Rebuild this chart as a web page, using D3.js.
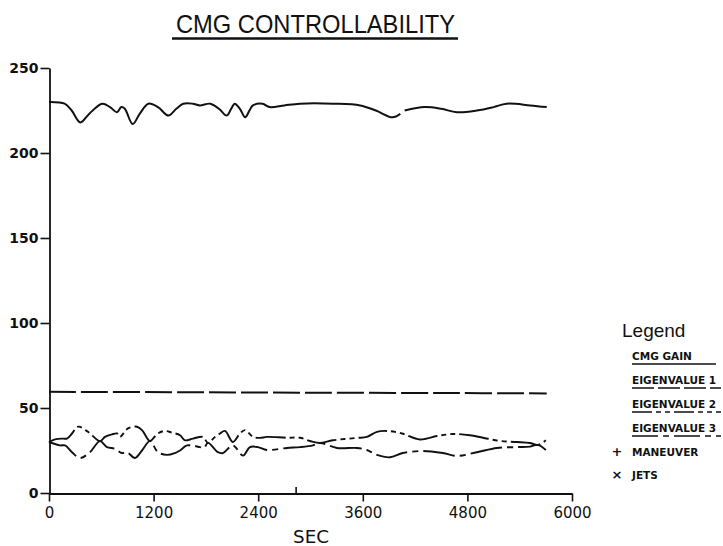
<!DOCTYPE html>
<html>
<head>
<meta charset="utf-8">
<script src="https://cdn.jsdelivr.net/npm/d3@7"></script>
<style>
  html, body { margin: 0; padding: 0; background: #fff; }
  svg { display: block; }
</style>
</head>
<body>
<svg id="chart" width="723" height="546"></svg>
<script>
// ---- data (time in seconds, value) ----
const titleText = "CMG CONTROLLABILITY";
const xTicks = [0, 1200, 2400, 3600, 4800, 6000];
const yTicks = [0, 50, 100, 150, 200, 250];
const xLabel = "SEC";

const cmgGainT = [0,180,260,360,460,610,700,780,830,870,960,1040,1140,1250,1370,1460,1540,1650,1730,1850,1950,2040,2090,2130,2190,2250,2300,2340,2450,2530,2700,2880,3260,3570,3750,3940,4030,null,4080,4310,4500,4680,4910,5100,5250,5520,5710];
const cmgGainV = [230,229,225,218,223,229,227,224,227,226,217,223,229,227,222,226,229,229,228,229,226,222,226,229,226,221,225,228,229,227,228,229,229,228,225,221,223,null,225,227,226,224,225,227,229,228,227];

const eig1T = [0, 1500, 3000, 4500, 5710];
const eig1V = [59.5, 59.3, 59.0, 58.8, 58.6];

const eig2T = [0,69,161,206,264,333,447,585,642,723,780,814,906,1009,1067,1136,1158,1250,1330,1411,1503,1560,1652,1766,1824,1904,1961,2019,2110,2191,2248,2340,2420,2500,2730,2879,2994,3108,3257,3533,3647,3762,3877,4049,4255,4450,4634,4829,4978,5173,5368,5517,5609,5700];
const eig2V = [30,31.5,32,32,35,39,36,30.5,33,34.5,35,33,38,39,37,31.5,30.5,35,36.5,35.5,34,31,32,33,29.5,33,35,36.5,30,35,37,33,32.4,33,32.5,32.5,30.6,29.4,31,32.4,33,36,36.5,35,31.5,33.5,34.7,34,32.5,30.6,30,29.4,28.3,31];

const eig3T = [0,126,184,264,356,470,585,665,757,837,895,986,1067,1158,1250,1353,1445,1503,1583,1732,1778,1824,1938,1996,2110,2225,2305,2397,2500,2730,2879,3028,3108,3303,3533,3647,3762,3911,4060,4290,4519,4680,4909,5139,5368,5517,5609,5700];
const eig3V = [30,28,28,24,20.6,24,30.5,27,26,23.5,24,20.6,25,30.5,24,22.4,23.5,25,28,27,26.5,29.5,24,23.5,28,22,27,27,25.3,26.5,27,28,29.4,26.5,26.5,25.3,22.4,21,23.5,24.7,23.5,21.8,24,26.5,27,27.3,28.3,25.3];

const jetsT = [2835];
const jetsV = [3.5];

const legendTitle = "Legend";
const legendItems = ["CMG GAIN", "EIGENVALUE 1", "EIGENVALUE 2", "EIGENVALUE 3"];
const markerItems = [["+", "MANEUVER"], ["\u00d7", "JETS"]];

// ---- drawing ----
const svg = d3.select("#chart");
const ink = "#111";
const x = d3.scaleLinear().domain([0, 6000]).range([49, 572]);
const y = d3.scaleLinear().domain([0, 250]).range([493, 68]);

// title
svg.append("text")
  .attr("x", 176).attr("y", 33)
  .attr("textLength", 279).attr("lengthAdjust", "spacingAndGlyphs")
  .attr("font-family", "Liberation Sans, Arial, sans-serif")
  .attr("font-size", 26).attr("fill", ink)
  .text(titleText);
svg.append("line").attr("x1", 172).attr("x2", 458).attr("y1", 38.5).attr("y2", 38.5)
  .attr("stroke", ink).attr("stroke-width", 2.5);

// axes
const yAxis = svg.append("g").attr("transform", "translate(49.5,0)")
  .call(d3.axisLeft(y).tickValues(yTicks).tickSize(9).tickSizeOuter(0).tickFormat(d3.format("d")));
const xAxis = svg.append("g").attr("transform", "translate(0,493.5)")
  .call(d3.axisBottom(x).tickValues(xTicks).tickSize(8).tickSizeOuter(0).tickFormat(d3.format("d")));
[yAxis, xAxis].forEach(a => {
  a.select(".domain").attr("stroke", ink).attr("stroke-width", 1.8);
  a.selectAll(".tick line").attr("stroke", ink).attr("stroke-width", 1.6);
});
yAxis.selectAll(".tick text")
  .attr("font-family", "DejaVu Sans, sans-serif").attr("font-weight", "bold")
  .attr("font-size", 14).attr("fill", ink).attr("x", -11).attr("dy", "0.35em");
xAxis.selectAll(".tick text")
  .attr("font-family", "DejaVu Sans, sans-serif")
  .attr("font-size", 15).attr("fill", ink).attr("y", 14).attr("dy", "0.71em");

svg.append("text").attr("x", 311).attr("y", 543).attr("text-anchor", "middle")
  .attr("font-family", "DejaVu Sans, sans-serif").attr("font-size", 18)
  .attr("textLength", 36).attr("lengthAdjust", "spacingAndGlyphs")
  .attr("fill", ink).text(xLabel);

// series
function pairs(T, V) { return T.map((t, i) => (t === null ? null : [t, V[i]])); }
const line = d3.line()
  .defined(d => d !== null)
  .x(d => x(d[0])).y(d => y(d[1]))
  .curve(d3.curveCatmullRom.alpha(0.5));

const series = [
  { data: pairs(cmgGainT, cmgGainV), dash: null, w: 2 },
  { data: pairs(eig1T, eig1V), dash: "27,5", w: 2 },
  { data: pairs(eig2T, eig2V), dash: "30,4,5,4,5,4", w: 1.9 },
  { data: pairs(eig3T, eig3V), dash: "32,5,6,5", w: 1.9 }
];
series.forEach(s => {
  svg.append("path").datum(s.data)
    .attr("d", line)
    .attr("fill", "none").attr("stroke", ink)
    .attr("stroke-width", s.w)
    .attr("stroke-linejoin", "round")
    .attr("stroke-dasharray", s.dash);
});

// jets spike on baseline
svg.selectAll(".jet").data(jetsT.map((t, i) => [t, jetsV[i]])).enter()
  .append("line").attr("class", "jet")
  .attr("x1", d => x(d[0])).attr("x2", d => x(d[0]))
  .attr("y1", y(0)).attr("y2", d => y(d[1]))
  .attr("stroke", ink).attr("stroke-width", 1.6);

// legend
svg.append("text").attr("x", 622).attr("y", 337)
  .attr("font-family", "Liberation Sans, Arial, sans-serif").attr("font-size", 19)
  .attr("fill", ink).text(legendTitle);
const itemY = [360, 384, 408, 432];
const itemDash = ["22,4", "20,4,5,4,5,4", "26,5,6,5"];
legendItems.forEach((txt, i) => {
  svg.append("text").attr("x", 632).attr("y", itemY[i])
    .attr("font-family", "DejaVu Sans, sans-serif").attr("font-weight", "bold")
    .attr("font-size", 10.5).attr("fill", ink).text(txt);
  svg.append("line").attr("x1", 632).attr("x2", i === 0 ? 716 : 721)
    .attr("y1", itemY[i] + 4).attr("y2", itemY[i] + 4)
    .attr("stroke", ink).attr("stroke-width", 1.6)
    .attr("stroke-dasharray", i === 0 ? null : itemDash[i - 1]);
});
const markY = [456, 479];
markerItems.forEach((m, i) => {
  svg.append("text").attr("x", 617).attr("y", markY[i]).attr("text-anchor", "middle")
    .attr("font-family", "DejaVu Sans, sans-serif").attr("font-weight", "bold")
    .attr("font-size", 13).attr("fill", ink).text(m[0]);
  svg.append("text").attr("x", 632).attr("y", markY[i])
    .attr("font-family", "DejaVu Sans, sans-serif").attr("font-weight", "bold")
    .attr("font-size", 10.5).attr("fill", ink).text(m[1]);
});
</script>
</body>
</html>
